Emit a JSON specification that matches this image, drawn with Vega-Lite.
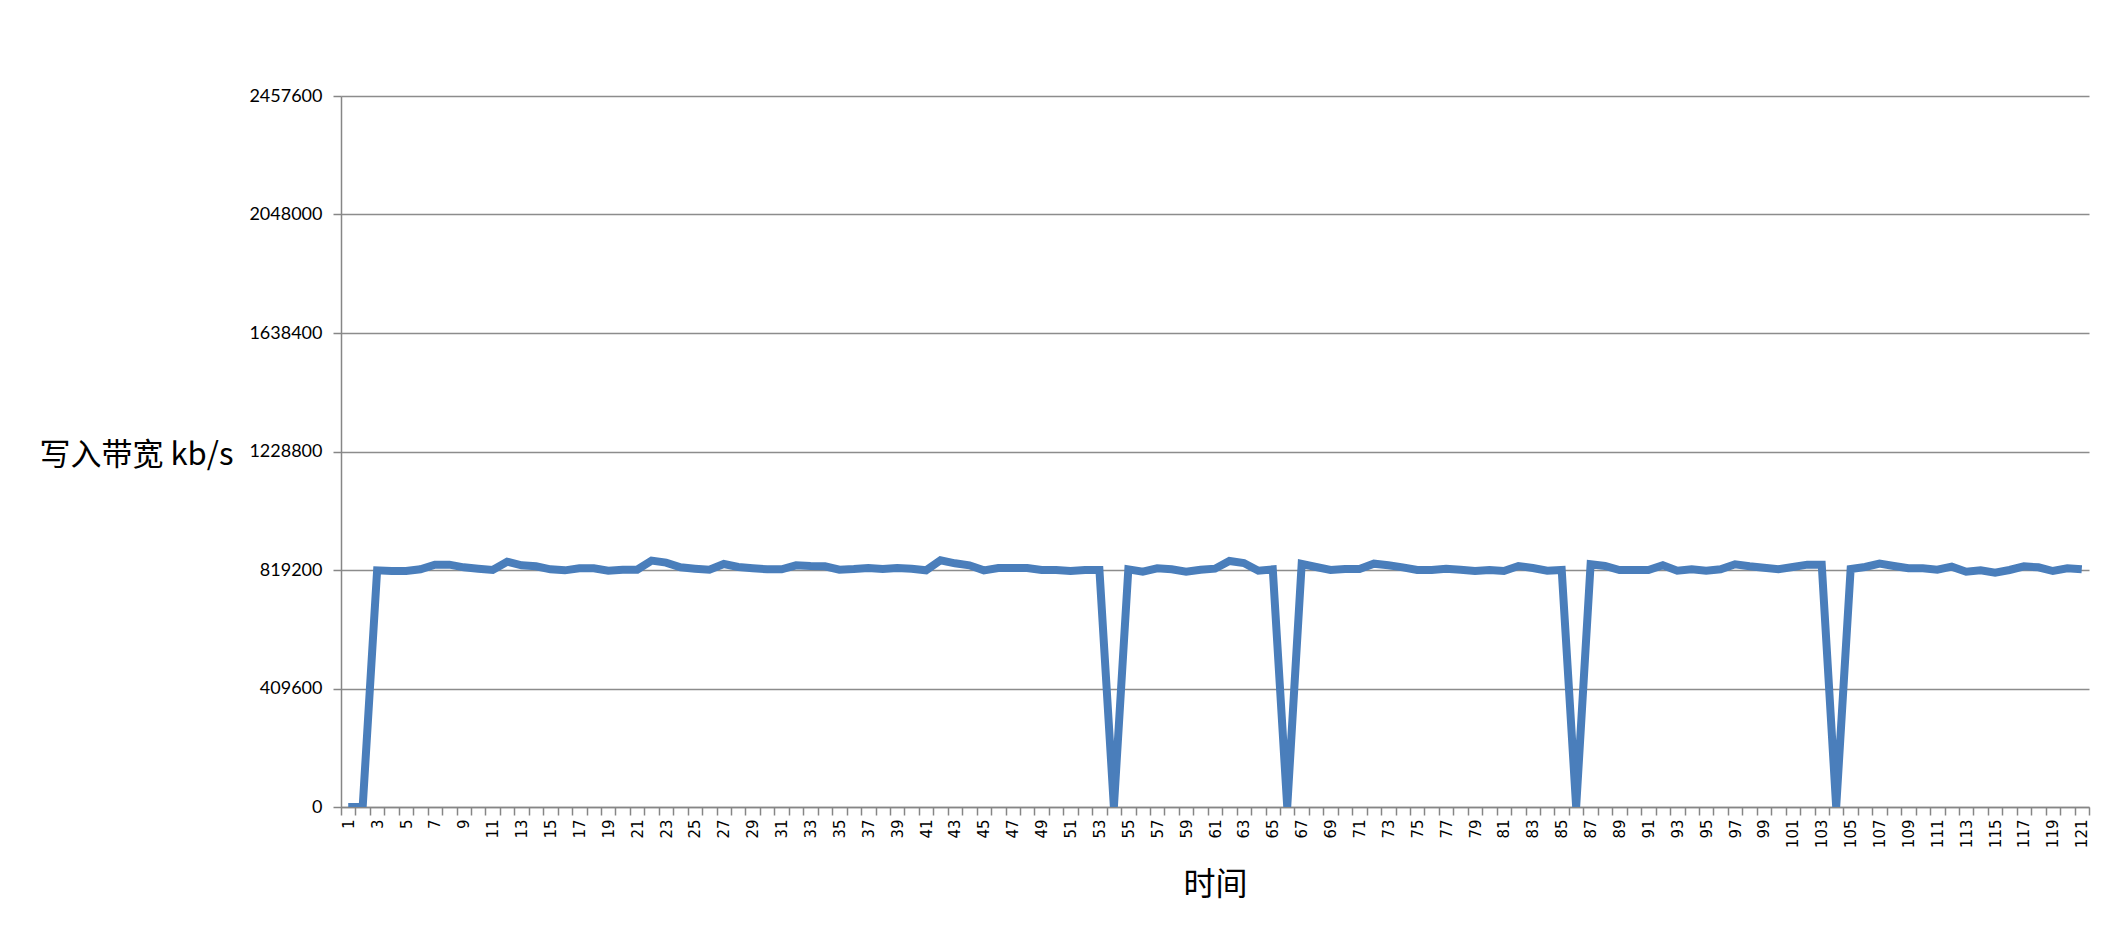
{
  "$schema": "https://vega.github.io/schema/vega-lite/v6.json",
  "autosize": {"type": "none"},
  "padding": {"left": 341, "top": 96, "right": 28, "bottom": 125},
  "width": 1748,
  "height": 711,
  "background": "white",
  "config": {"view": {"stroke": null}},
  "data": {"values": [
    {"t":1,"v":0},{"t":2,"v":0},{"t":3,"v":818000},{"t":4,"v":815700},{"t":5,"v":815700},
    {"t":6,"v":821500},{"t":7,"v":837700},{"t":8,"v":837700},{"t":9,"v":828400},{"t":10,"v":823800},
    {"t":11,"v":819200},{"t":12,"v":848000},{"t":13,"v":835400},{"t":14,"v":831900},{"t":15,"v":821500},
    {"t":16,"v":818000},{"t":17,"v":825000},{"t":18,"v":825000},{"t":19,"v":816900},{"t":20,"v":820300},
    {"t":21,"v":820300},{"t":22,"v":851500},{"t":23,"v":844600},{"t":24,"v":828400},{"t":25,"v":823800},
    {"t":26,"v":820300},{"t":27,"v":840000},{"t":28,"v":829600},{"t":29,"v":825000},{"t":30,"v":821500},
    {"t":31,"v":821500},{"t":32,"v":835400},{"t":33,"v":833000},{"t":34,"v":831900},{"t":35,"v":820300},
    {"t":36,"v":822600},{"t":37,"v":826100},{"t":38,"v":822600},{"t":39,"v":826100},{"t":40,"v":823800},
    {"t":41,"v":818000},{"t":42,"v":852600},{"t":43,"v":842300},{"t":44,"v":835400},{"t":45,"v":818000},
    {"t":46,"v":826100},{"t":47,"v":826100},{"t":48,"v":826100},{"t":49,"v":819200},{"t":50,"v":819200},
    {"t":51,"v":815700},{"t":52,"v":819200},{"t":53,"v":819200},{"t":54,"v":0},{"t":55,"v":821500},
    {"t":56,"v":813400},{"t":57,"v":825000},{"t":58,"v":821500},{"t":59,"v":813400},{"t":60,"v":820300},
    {"t":61,"v":823800},{"t":62,"v":850400},{"t":63,"v":843400},{"t":64,"v":816900},{"t":65,"v":821500},
    {"t":66,"v":0},{"t":67,"v":840000},{"t":68,"v":829600},{"t":69,"v":819200},{"t":70,"v":822600},
    {"t":71,"v":822600},{"t":72,"v":841100},{"t":73,"v":835400},{"t":74,"v":828400},{"t":75,"v":819200},
    {"t":76,"v":819200},{"t":77,"v":823800},{"t":78,"v":820300},{"t":79,"v":815700},{"t":80,"v":819200},
    {"t":81,"v":815700},{"t":82,"v":833000},{"t":83,"v":826100},{"t":84,"v":816900},{"t":85,"v":819200},
    {"t":86,"v":0},{"t":87,"v":838800},{"t":88,"v":833000},{"t":89,"v":819200},{"t":90,"v":819200},
    {"t":91,"v":819200},{"t":92,"v":835400},{"t":93,"v":816900},{"t":94,"v":821500},{"t":95,"v":816900},
    {"t":96,"v":821500},{"t":97,"v":838800},{"t":98,"v":831900},{"t":99,"v":827300},{"t":100,"v":821500},
    {"t":101,"v":829600},{"t":102,"v":837700},{"t":103,"v":837700},{"t":104,"v":0},{"t":105,"v":822600},
    {"t":106,"v":829600},{"t":107,"v":841100},{"t":108,"v":833000},{"t":109,"v":825000},{"t":110,"v":825000},
    {"t":111,"v":820300},{"t":112,"v":830700},{"t":113,"v":813400},{"t":114,"v":818000},{"t":115,"v":810000},
    {"t":116,"v":819200},{"t":117,"v":831900},{"t":118,"v":828400},{"t":119,"v":815700},{"t":120,"v":825000},
    {"t":121,"v":821500}
  ]},
  "mark": {"type": "line", "color": "#4a7ebb", "strokeWidth": 8, "strokeJoin": "miter", "strokeMiterLimit": 2, "clip": true},
  "encoding": {
    "x": {
      "field": "t",
      "type": "ordinal",
      "bandPosition": 0.5,
      "scale": {"type": "band", "paddingInner": 0, "paddingOuter": 0},
      "axis": {
        "title": "时间",
        "titleFont": "Noto Sans CJK SC",
        "titleFontSize": 32,
        "titleFontWeight": "normal",
        "titleColor": "#000000",
        "titleY": 77,
        "titleBaseline": "middle",
        "labelAngle": -90,
        "labelFont": "DejaVu Sans",
        "labelFontSize": 15,
        "labelColor": "#000000",
        "labelPadding": 4,
        "labelOverlap": false,
        "labelExpr": "datum.value % 2 === 1 ? datum.label : ''",
        "tickBand": "extent",
        "tickSize": 8,
        "tickColor": "#868686",
        "tickWidth": 1.5,
        "domainColor": "#868686",
        "domainWidth": 1.5,
        "grid": false
      }
    },
    "y": {
      "field": "v",
      "type": "quantitative",
      "scale": {"domain": [0, 2457600], "nice": false},
      "axis": {
        "values": [0, 409600, 819200, 1228800, 1638400, 2048000, 2457600],
        "format": "d",
        "title": "写入带宽 kb/s",
        "titleFont": "Noto Sans CJK SC",
        "titleFontSize": 31,
        "titleFontWeight": "normal",
        "titleColor": "#000000",
        "titleAngle": 0,
        "titleAlign": "center",
        "titleBaseline": "middle",
        "titleX": -205,
        "titleY": 359,
        "labelFont": "Lato",
        "labelFontSize": 18,
        "labelColor": "#000000",
        "labelPadding": 11,
        "tickSize": 8,
        "tickColor": "#868686",
        "tickWidth": 1.5,
        "domainColor": "#868686",
        "domainWidth": 1.5,
        "grid": true,
        "gridColor": "#8c8c8c",
        "gridWidth": 1.5
      }
    }
  }
}
